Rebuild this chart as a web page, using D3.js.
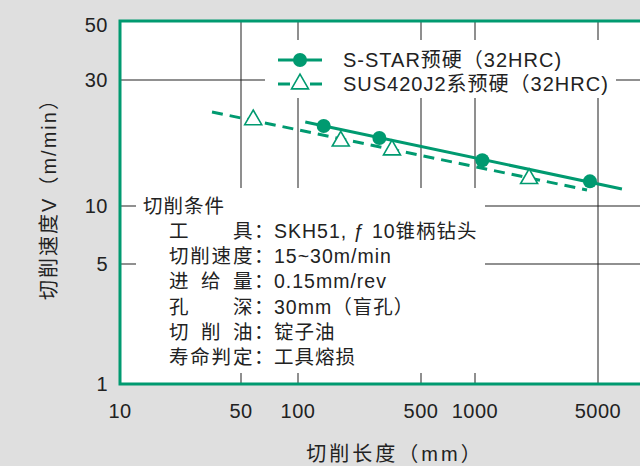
<!DOCTYPE html>
<html><head><meta charset="utf-8">
<script src="https://cdn.jsdelivr.net/npm/d3@7"></script>
<style>
html,body{margin:0;padding:0;background:#dfdfdf;}
text{font-family:"Liberation Sans",Arial,"Noto Sans CJK SC",sans-serif;fill:#222;}
</style></head>
<body>
<svg id="c" width="640" height="466"></svg>
<script>
// ---- data ----
const xTicks = [10, 50, 100, 500, 1000, 5000];
const yTicks = [1, 5, 10, 30, 50];
const xGrid = [50, 100, 500, 1000, 5000];
const yGrid = [5, 10, 30];
const sstarLength = [140, 290, 1100, 4500];
const sstarSpeed = [20.1, 18.1, 14.9, 12.4];
const susLength = [58, 175, 342, 2030];
const susSpeed = [21.2, 17.6, 16.3, 12.7];
const sstarFitLength = [110, 6840];
const sstarFitSpeed = [20.8, 11.6];
const susFitLength = [34, 4330];
const susFitSpeed = [22.7, 11.5];
const seriesNames = ["S-STAR预硬（32HRC)", "SUS420J2系预硬（32HRC)"];
const conditionTitle = "切削条件";
const conditionLabels = ["工具", "切削速度", "进给量", "孔深", "切削油", "寿命判定"];
const conditionValues = ["SKH51, ƒ 10锥柄钻头", "15~30m/min", "0.15mm/rev", "30mm（盲孔）", "锭子油", "工具熔损"];
const xTitle = "切削长度（mm）";
const yTitle = "切削速度V（m/min）";

(function () {
const green = "#009a70";
const svg = d3.select("#c");

// piecewise log scales (the original axes are not uniformly spaced)
const x = d3.scaleLog().domain([10, 50, 100, 500, 1000, 5000]).range([120, 241, 298, 421, 475, 598]);
const y = d3.scaleLog().domain([1, 5, 10, 30, 50]).range([384, 264, 206, 80, 21]);

const pL = x(10), pR = 660, pT = y(50), pB = y(1);

// plot area
svg.append("rect").attr("x", pL).attr("y", pT).attr("width", pR - pL).attr("height", pB - pT).attr("fill", "#fff");

// grid
svg.append("g").selectAll("line").data(xGrid).join("line")
  .attr("x1", d => x(d)).attr("x2", d => x(d)).attr("y1", pT).attr("y2", pB)
  .attr("stroke", "#6a6a6a").attr("stroke-width", 1.5);
svg.append("g").selectAll("line").data(yGrid).join("line")
  .attr("x1", pL).attr("x2", pR).attr("y1", d => y(d)).attr("y2", d => y(d))
  .attr("stroke", "#222").attr("stroke-width", 1.2);

// white boxes (legend & conditions)
svg.append("rect").attr("x", 265).attr("y", 40).attr("width", 351).attr("height", 58).attr("fill", "#fff");
svg.append("rect").attr("x", 136).attr("y", 188).attr("width", 349).attr("height", 185).attr("fill", "#fff");

// fit lines
const line = d3.line().x(d => x(d[0])).y(d => y(d[1]));
svg.append("path").datum(d3.zip(sstarFitLength, sstarFitSpeed)).attr("d", line)
  .attr("fill", "none").attr("stroke", green).attr("stroke-width", 3);
svg.append("path").datum(d3.zip(susFitLength, susFitSpeed)).attr("d", line)
  .attr("fill", "none").attr("stroke", green).attr("stroke-width", 3).attr("stroke-dasharray", "11,7");

// markers
const tri = d3.symbol().type(d3.symbolTriangle).size(125);
svg.append("g").selectAll("circle").data(d3.zip(sstarLength, sstarSpeed)).join("circle")
  .attr("cx", d => x(d[0])).attr("cy", d => y(d[1])).attr("r", 7).attr("fill", green);
svg.append("g").selectAll("path").data(d3.zip(susLength, susSpeed)).join("path")
  .attr("d", tri).attr("transform", d => `translate(${x(d[0])},${y(d[1])})`)
  .attr("fill", "#fff").attr("stroke", green).attr("stroke-width", 1.6);

// border
svg.append("path")
  .attr("d", `M${pR},${pT}H${pL}V${pB}H${pR}`)
  .attr("fill", "none").attr("stroke", green).attr("stroke-width", 3);

// axis labels
svg.append("g").selectAll("text").data(xTicks).join("text")
  .attr("x", d => x(d)).attr("y", 418).attr("text-anchor", "middle")
  .style("font-size", "20px").style("letter-spacing", "0.5px").text(d => d);
svg.append("g").selectAll("text").data(yTicks).join("text")
  .attr("x", 108).attr("y", d => Math.max(y(d), 25)).attr("dy", "0.36em").attr("text-anchor", "end")
  .style("font-size", "20px").style("letter-spacing", "0.5px").text(d => d);

svg.append("text").attr("x", 395).attr("y", 454).attr("dy", "0.36em").attr("text-anchor", "middle")
  .style("font-size", "20px").style("letter-spacing", "3px").text(xTitle);
svg.append("text").attr("transform", "translate(49,194) rotate(-90)").attr("dy", "0.36em").attr("text-anchor", "middle")
  .style("font-size", "20px").style("letter-spacing", "2px").text(yTitle);

// legend
const lg = svg.append("g");
lg.append("line").attr("x1", 278).attr("x2", 322).attr("y1", 60).attr("y2", 60).attr("stroke", green).attr("stroke-width", 3);
lg.append("circle").attr("cx", 300).attr("cy", 60).attr("r", 7).attr("fill", green);
lg.append("line").attr("x1", 278).attr("x2", 322).attr("y1", 84).attr("y2", 84).attr("stroke", green).attr("stroke-width", 3).attr("stroke-dasharray", "12,20");
lg.append("path").attr("d", tri).attr("transform", "translate(300,84)").attr("fill", "#fff").attr("stroke", green).attr("stroke-width", 1.6);
lg.selectAll("text").data(seriesNames).join("text")
  .attr("x", 343).attr("y", (d, i) => 60 + i * 24).attr("dy", "0.36em")
  .style("font-size", "20px").style("letter-spacing", "1px").text(d => d);

// conditions
const cg = svg.append("g").style("font-size", "19.5px");
cg.append("text").attr("x", 143).attr("y", 206).attr("dy", "0.36em").style("letter-spacing", "1px").text(conditionTitle);
const step = 21.3;
conditionLabels.forEach((lab, i) => {
  const yy = 231 + i * 25.2;
  const chars = Array.from(lab);
  const n = chars.length;
  chars.forEach((ch, j) => {
    const pos = n === 1 ? 0 : j * 3 / (n - 1);
    cg.append("text").attr("x", 169 + pos * step).attr("y", yy).attr("dy", "0.36em").text(ch);
  });
  cg.append("text").attr("x", 254).attr("y", yy).attr("dy", "0.36em").text("：");
  cg.append("text").attr("x", 274).attr("y", yy).attr("dy", "0.36em").style("letter-spacing", "1px").text(conditionValues[i]);
});
})();
</script>
</body></html>
